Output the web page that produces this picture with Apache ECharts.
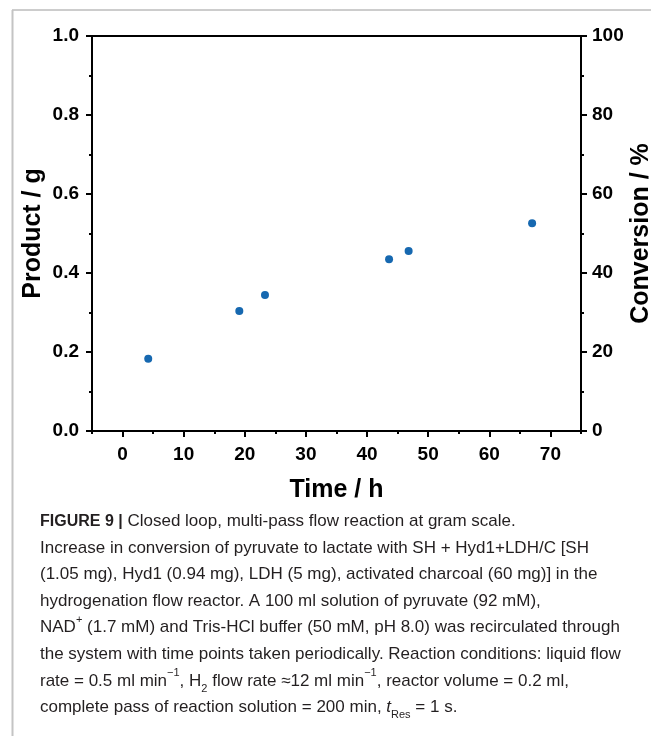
<!DOCTYPE html>
<html>
<head>
<meta charset="utf-8">
<script src="https://cdn.jsdelivr.net/npm/echarts@6/dist/echarts.min.js"></script>
<style>
html, body { margin: 0; padding: 0; background: #fff; }
#main { width: 651px; height: 736px; }
</style>
</head>
<body>
<div id="main"></div>
<script>
// data
var timeH = [4.2, 19.1, 23.3, 43.6, 46.8, 67.0];
var productG = [0.183, 0.304, 0.344, 0.435, 0.456, 0.526];
var xMajorTicks = [0, 10, 20, 30, 40, 50, 60, 70];
var xMinorTicks = [-5, 5, 15, 25, 35, 45, 55, 65, 75];

var captionLines = [
    '{b|FIGURE 9 |} Closed loop, multi-pass flow reaction at gram scale.',
    'Increase in conversion of pyruvate to lactate with SH + Hyd1+LDH/C [SH',
    '(1.05 mg), Hyd1 (0.94 mg), LDH (5 mg), activated charcoal (60 mg)] in the',
    'hydrogenation flow reactor. A 100 ml solution of pyruvate (92 mM),',
    'NAD{sup|+} (1.7 mM) and Tris-HCl buffer (50 mM, pH 8.0) was recirculated through',
    'the system with time points taken periodically. Reaction conditions: liquid flow',
    'rate = 0.5 ml min{sup|\u22121}, H{sub|2} flow rate \u224812 ml min{sup|\u22121}, reactor volume = 0.2 ml,',
    'complete pass of reaction solution = 200 min, {i|t}{sub|Res} = 1 s.'
];

var points = timeH.map(function (t, i) { return [t, productG[i]]; });

var font = 'Liberation Sans';
var tickLabel = { color: '#000', fontFamily: font, fontWeight: 'bold', fontSize: 19 };
var nameStyle = { color: '#000', fontFamily: font, fontWeight: 'bold', fontSize: 25 };
var blackLine = { color: '#000', width: 2 };

var myChart = echarts.init(document.getElementById('main'));

myChart.setOption({
    animation: false,
    backgroundColor: '#fff',
    grid: {
        left: 92, right: 70, top: 36, bottom: 305,
        containLabel: false,
        outerBoundsMode: 'none',
        show: true,
        borderColor: '#000',
        borderWidth: 2
    },
    xAxis: [
        {
            type: 'value',
            min: -5, max: 75,
            position: 'bottom',
            name: 'Time / h',
            nameLocation: 'middle',
            nameGap: 47,
            nameMoveOverlap: false,
            nameTextStyle: nameStyle,
            axisLine: { onZero: false, lineStyle: blackLine },
            axisTick: { customValues: xMajorTicks, length: 6, inside: false, lineStyle: blackLine },
            axisLabel: Object.assign({ customValues: xMajorTicks, margin: 14 }, tickLabel),
            splitLine: { show: false }
        },
        {
            type: 'value',
            min: -5, max: 75,
            position: 'bottom',
            offset: 0,
            axisLine: { show: false, onZero: false },
            axisTick: { customValues: xMinorTicks, length: 3, lineStyle: blackLine },
            axisLabel: { show: false },
            splitLine: { show: false }
        }
    ],
    yAxis: [
        {
            type: 'value',
            min: 0, max: 1, interval: 0.2,
            position: 'left',
            name: 'Product / g',
            nameLocation: 'middle',
            nameGap: 46,
            nameMoveOverlap: false,
            nameTextStyle: nameStyle,
            axisLine: { show: true, onZero: false, lineStyle: blackLine },
            axisTick: { show: true, length: 6, lineStyle: blackLine },
            minorTick: { show: true, splitNumber: 2, length: 3, lineStyle: blackLine },
            axisLabel: Object.assign({ margin: 13, formatter: function (v) { return v.toFixed(1); } }, tickLabel),
            splitLine: { show: false }
        },
        {
            type: 'value',
            min: 0, max: 100, interval: 20,
            position: 'right',
            name: 'Conversion / %',
            nameLocation: 'middle',
            nameGap: 48,
            nameMoveOverlap: false,
            nameTextStyle: nameStyle,
            axisLine: { show: true, onZero: false, lineStyle: blackLine },
            axisTick: { show: true, length: 6, lineStyle: blackLine },
            minorTick: { show: true, splitNumber: 2, length: 3, lineStyle: blackLine },
            axisLabel: Object.assign({ margin: 11 }, tickLabel),
            splitLine: { show: false }
        }
    ],
    series: [
        {
            name: 'Product',
            type: 'scatter',
            xAxisIndex: 0,
            yAxisIndex: 0,
            symbol: 'circle',
            symbolSize: 8,
            itemStyle: { color: '#1668b0', opacity: 1 },
            data: points
        }
    ],
    graphic: [
        // page frame of the figure
        { type: 'line', silent: true, shape: { x1: 12, y1: 10, x2: 651, y2: 10 }, style: { stroke: '#9a9a9a', lineWidth: 1 } },
        { type: 'line', silent: true, shape: { x1: 12.5, y1: 10, x2: 12.5, y2: 736 }, style: { stroke: '#c4c4c4', lineWidth: 2 } },
        {
            type: 'text',
            left: 40,
            top: 508,
            silent: true,
            style: {
                text: captionLines.join('\n'),
                fill: '#231f20',
                fontFamily: font,
                fontSize: 17,
                lineHeight: 26.6,
                rich: {
                    b: { fontWeight: 'bold', fontFamily: font, fontSize: 16, fill: '#231f20', lineHeight: 26.6 },
                    i: { fontStyle: 'italic', fontFamily: font, fontSize: 17, fill: '#231f20', lineHeight: 26.6 },
                    sup: { fontSize: 11, fontFamily: font, fill: '#231f20', lineHeight: 20, verticalAlign: 'top' },
                    sub: { fontSize: 11, fontFamily: font, fill: '#231f20', lineHeight: 18, verticalAlign: 'bottom' }
                }
            }
        }
    ]
});
</script>
</body>
</html>
